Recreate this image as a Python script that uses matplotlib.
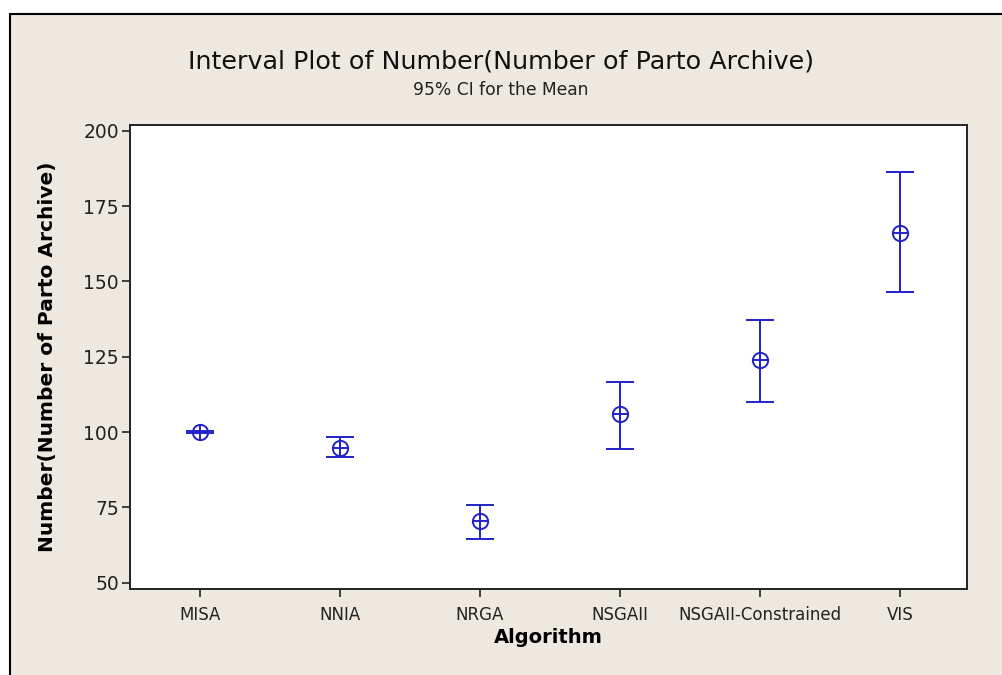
import matplotlib
matplotlib.use("Agg")
import matplotlib.pyplot as plt
from matplotlib.patches import Rectangle

# données (moyenne et IC 95 %)
algorithms = ["MISA", "NNIA", "NRGA", "NSGAII", "NSGAII-Constrained", "VIS"]
means = [100.0, 94.6, 70.6, 105.9, 123.9, 166.2]
ci_low = [99.8, 91.8, 64.6, 94.3, 109.9, 146.4]
ci_high = [100.2, 98.2, 75.7, 116.7, 137.1, 186.4]
yticks = [50, 75, 100, 125, 150, 175, 200]

blue = "#2222c8"
bg = "#ede9e0"

fig = plt.figure(figsize=(10.02, 6.75), dpi=100, facecolor="white")

# cadre beige (seuls les bords gauche et haut sont visibles)
fig.patches.append(Rectangle((9.5 / 1002, -0.1), 1.2, 1.1 - 13.5 / 675,
                             transform=fig.transFigure, facecolor=bg,
                             edgecolor="black", linewidth=1.5, zorder=-10))

ax = fig.add_axes([130 / 1002, (675 - 589) / 675, (967 - 130) / 1002, (589 - 125) / 675])
ax.set_zorder(5)
ax.set_facecolor("white")

x = list(range(len(algorithms)))
yerr = [[m - lo for m, lo in zip(means, ci_low)],
        [hi - m for m, hi in zip(means, ci_high)]]

ax.errorbar(x, means, yerr=yerr, fmt="none", ecolor=blue, elinewidth=1.4,
            capsize=10, capthick=1.4)
ax.plot(x, means, "o", markersize=11, markerfacecolor="none",
        markeredgecolor=blue, markeredgewidth=1.4)
ax.plot(x, means, "+", markersize=11, markeredgecolor=blue, markeredgewidth=1.4)

ax.set_xlim(-0.5, 5.48)
ax.set_ylim(47.9, 201.9)
ax.set_xticks(x)
ax.set_xticklabels(algorithms)
ax.set_yticks(yticks)

for s in ax.spines.values():
    s.set_color("#222222")
    s.set_linewidth(1.4)

ax.tick_params(axis="x", direction="out", length=6, width=1.2, pad=6,
               labelsize=12, colors="#222222")
ax.tick_params(axis="y", direction="out", length=6, width=1.2, pad=2,
               labelsize=13.5, colors="#222222")

ax.set_xlabel("Algorithm", fontsize=14, fontweight="bold", labelpad=3)
ax.set_ylabel("Number(Number of Parto Archive)", fontsize=14.5,
              fontweight="bold", labelpad=19)

fig.text(0.5, 1 - 61 / 675, "Interval Plot of Number(Number of Parto Archive)",
         ha="center", va="center", fontsize=18.3, color="#111111")
fig.text(0.5, 1 - 90 / 675, "95% CI for the Mean", ha="center", va="center",
         fontsize=12.3, color="#222222")

fig.savefig("out.png", dpi=100, facecolor=fig.get_facecolor())
